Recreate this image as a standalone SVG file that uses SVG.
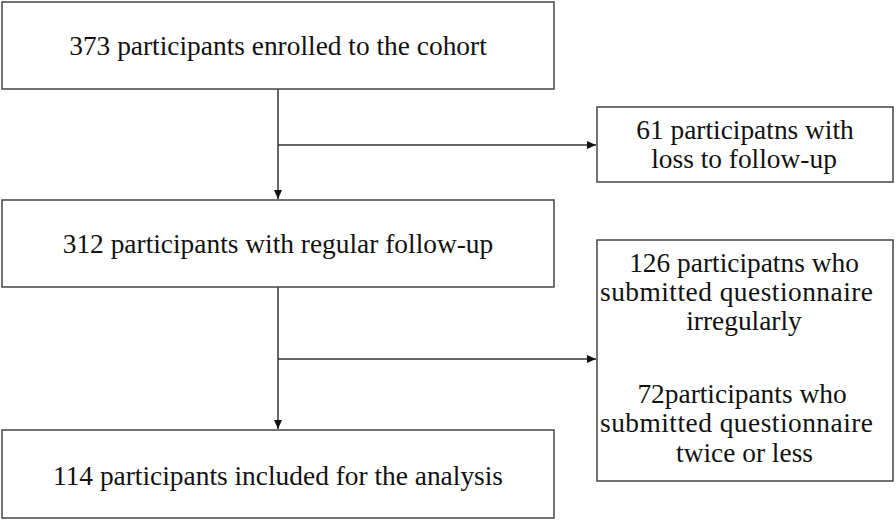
<svg xmlns="http://www.w3.org/2000/svg" width="896" height="521" viewBox="0 0 896 521">
<style>
.box{fill:#fff;stroke:#444;stroke-width:1.5}
.t{font-family:"Liberation Serif","Times New Roman",serif;font-size:27.4px;fill:#111;text-anchor:middle}
.c{stroke:#333;stroke-width:1.5;fill:none}
</style>
<defs>
<marker id="ah" markerWidth="10" markerHeight="10" refX="9" refY="5" orient="auto" markerUnits="userSpaceOnUse">
<path d="M0,1 L9,5 L0,9 Z" fill="#111"/>
</marker>
</defs>
<rect width="896" height="521" fill="#fff"/>
<g id="connectors">
<line class="c" x1="278" y1="89" x2="278" y2="199" marker-end="url(#ah)"/>
<line class="c" x1="278" y1="145" x2="596" y2="145" marker-end="url(#ah)"/>
<line class="c" x1="278" y1="287" x2="278" y2="429" marker-end="url(#ah)"/>
<line class="c" x1="278" y1="359" x2="596" y2="359" marker-end="url(#ah)"/>
</g>
<g id="n1">
<rect class="box" x="2" y="2" width="552" height="87"/>
<text class="t" x="278" y="55">373 participants enrolled to the cohort</text>
</g>
<g id="n2">
<rect class="box" x="597" y="107" width="296" height="75"/>
<text class="t" x="745" y="139">61 participatns with</text>
<text class="t" x="744" y="168">loss to follow-up</text>
</g>
<g id="n3">
<rect class="box" x="2" y="200" width="552" height="87"/>
<text class="t" x="278" y="253">312 participants with regular follow-up</text>
</g>
<g id="n4">
<rect class="box" x="597" y="240" width="296" height="241"/>
<text class="t" x="744" y="272">126 participatns who</text>
<text class="t" x="736.5" y="301" textLength="273" lengthAdjust="spacing">submitted questionnaire</text>
<text class="t" x="744" y="330">irregularly</text>
<text class="t" x="742" y="403">72participants who</text>
<text class="t" x="736.5" y="432" textLength="273" lengthAdjust="spacing">submitted questionnaire</text>
<text class="t" x="744.5" y="462">twice or less</text>
</g>
<g id="n5">
<rect class="box" x="2" y="430" width="552" height="88"/>
<text class="t" x="278" y="485">114 participants included for the analysis</text>
</g>
</svg>
